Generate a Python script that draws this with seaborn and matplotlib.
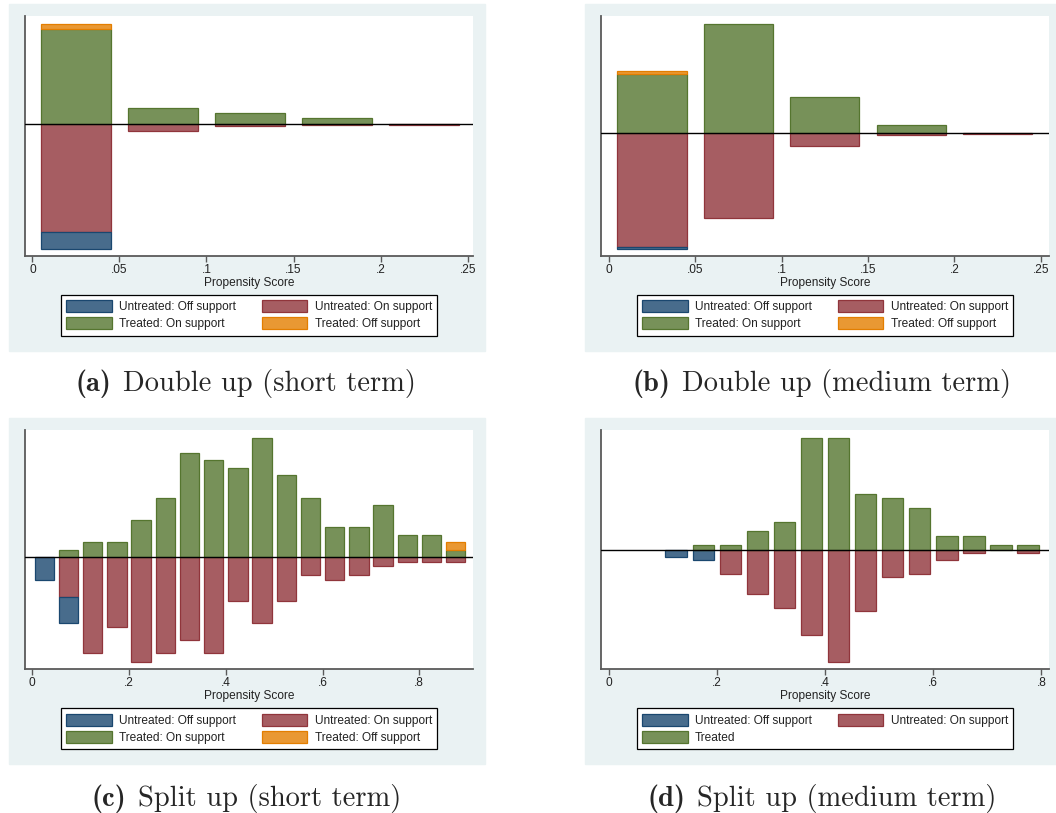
import matplotlib
matplotlib.use("Agg")
import matplotlib.pyplot as plt
from matplotlib.patches import Patch, Rectangle
from matplotlib.colors import to_hex
import pandas as pd
import seaborn as sns

# ---------------------------------------------------------------
# data: bin centres (propensity score) and bar heights per group
# (y axis is unlabelled in the source, heights are relative)
# untreated bars are drawn below the zero line
# ---------------------------------------------------------------
DOUBLE_PS = [0.025, 0.075, 0.125, 0.175, 0.225]

A_UNTR_OFF = [16.4, 0, 0, 0, 0]
A_UNTR_ON = [108.3, 6.7, 1.7, 0.6, 0.7]
A_TR_ON = [94.7, 16.0, 10.7, 5.7, 0]
A_TR_OFF = [5.3, 0, 0, 0, 0]

B_UNTR_OFF = [2.4, 0, 0, 0, 0]
B_UNTR_ON = [113.3, 85.0, 13.0, 2.0, 1.0]
B_TR_ON = [59.3, 109.3, 36.7, 8.3, 0]
B_TR_OFF = [3.3, 0, 0, 0, 0]

C_PS = [0.025, 0.075, 0.125, 0.175, 0.225, 0.275, 0.325, 0.375, 0.425,
        0.475, 0.525, 0.575, 0.625, 0.675, 0.725, 0.775, 0.825, 0.875]
C_UNTR_OFF = [22.7, 26.0, 0, 0, 0, 0, 0, 0, 0, 0, 0, 0, 0, 0, 0, 0, 0, 0]
C_UNTR_ON = [0, 40.0, 96.3, 70.3, 105.3, 96.3, 83.0, 96.3, 44.3,
             66.0, 44.3, 18.3, 22.7, 18.3, 9.3, 5.3, 5.3, 5.3]
C_TR_ON = [0, 7.0, 14.7, 14.7, 37.3, 59.7, 104.7, 97.0, 89.7,
           119.3, 82.0, 59.7, 29.7, 29.7, 52.0, 22.0, 22.0, 7.0]
C_TR_OFF = [0, 0, 0, 0, 0, 0, 0, 0, 0, 0, 0, 0, 0, 0, 0, 0, 0, 8.0]

D_PS = [0.125, 0.175, 0.225, 0.275, 0.325, 0.375, 0.425,
        0.475, 0.525, 0.575, 0.625, 0.675, 0.725, 0.775]
D_UNTR_OFF = [7.0, 10.3, 0, 0, 0, 0, 0, 0, 0, 0, 0, 0, 0, 0]
D_UNTR_ON = [0, 0, 24.0, 44.0, 58.0, 85.0, 112.0, 61.0, 27.3, 24.0, 10.3, 3.3, 0, 3.3]
D_TREATED = [0, 5.3, 5.3, 19.0, 28.3, 112.7, 112.7, 56.3, 52.0, 42.3, 14.3, 14.3, 5.3, 5.3]

U_OFF = "Untreated: Off support"
U_ON = "Untreated: On support"
T_ON = "Treated: On support"
T_OFF = "Treated: Off support"
TREATED = "Treated"

CAPTIONS = [("(a)", "Double up (short term)"),
            ("(b)", "Double up (medium term)"),
            ("(c)", "Split up (short term)"),
            ("(d)", "Split up (medium term)")]

# stata s2color at 80% intensity for fill, full colour for outline
FILL = {U_OFF: "#486c8c", U_ON: "#a65d62", T_ON: "#779159", T_OFF: "#e99833", TREATED: "#779159"}
EDGE = {"#486c8c": "#1a476f", "#a65d62": "#90353b", "#779159": "#55752f", "#e99833": "#e37e00"}

W, H = 1056, 813
BG = "#eaf2f3"
TXT = "#222222"
AXC = "#5a5a5a"

sns.set_theme(style="white")
plt.rcParams["font.family"] = ["Liberation Sans", "DejaVu Sans"]

fig = plt.figure(figsize=(W / 100, H / 100), dpi=100)
fig.patch.set_facecolor("white")


def px_axes(x0, y0, x1, y1):
    ax = fig.add_axes([x0 / W, 1 - y1 / H, (x1 - x0) / W, (y1 - y0) / H])
    ax.set_zorder(2)
    return ax


def background(x0, y0, x1, y1):
    fig.patches.append(Rectangle((x0 / W, 1 - y1 / H), (x1 - x0) / W, (y1 - y0) / H,
                                 transform=fig.transFigure, color=BG, zorder=-1))


def mirror_hist(ax, ps, untr_off, untr_on, tr_on, tr_off, tr_label):
    n = len(ps)
    lo, hi = min(ps) - 0.025, max(ps) + 0.025

    down = pd.DataFrame({"ps": ps + ps,
                         "w": [-v for v in untr_off] + [-v for v in untr_on],
                         "grp": [U_OFF] * n + [U_ON] * n})
    up_groups = [tr_label] if tr_off is None else [T_OFF, tr_label]
    up_w = tr_on if tr_off is None else tr_off + tr_on
    up = pd.DataFrame({"ps": ps * len(up_groups), "w": up_w,
                       "grp": sum([[g] * n for g in up_groups], [])})

    for df, order in [(down, [U_OFF, U_ON]), (up, up_groups)]:
        sns.histplot(data=df, x="ps", weights="w", hue="grp", hue_order=order,
                     palette=FILL, multiple="stack", bins=n, binrange=(lo, hi),
                     shrink=0.8, alpha=1, linewidth=0.9, legend=False, ax=ax)

    for bar in ax.patches:
        if bar.get_height() == 0:
            bar.set_visible(False)
            continue
        bar.set_edgecolor(EDGE[to_hex(bar.get_facecolor())])

    ax.axhline(0, color="black", lw=1.0, zorder=5)


def style_axes(ax, xlim, ylim, ticks, labels):
    ax.set_facecolor("white")
    ax.set_xlim(*xlim)
    ax.set_ylim(*ylim)
    ax.set_yticks([])
    ax.set_ylabel("")
    ax.set_xticks(ticks, labels)
    ax.set_xlabel("Propensity Score", fontsize=8.6, color=TXT, labelpad=1)
    ax.tick_params(axis="x", bottom=True, length=4, width=1, color=AXC,
                   labelsize=8.6, labelcolor=TXT, pad=1.5)
    for side in ["top", "right"]:
        ax.spines[side].set_visible(False)
    for side in ["left", "bottom"]:
        ax.spines[side].set_color(AXC)
        ax.spines[side].set_linewidth(1.3)


def legend(ax, cx, top, labels):
    handles = [Patch(facecolor=FILL[l], edgecolor=EDGE[FILL[l]], linewidth=0.9, label=l)
               for l in labels]
    leg = ax.legend(handles=handles, loc="upper center", bbox_to_anchor=(cx / W, 1 - top / H),
                    bbox_transform=fig.transFigure, ncol=2, fontsize=8.6,
                    handlelength=3.8, handleheight=1.15, handletextpad=0.6,
                    columnspacing=2.2, labelspacing=0.35, borderpad=0.45,
                    borderaxespad=0, frameon=True, fancybox=False, framealpha=1,
                    edgecolor="black")
    leg.get_frame().set_linewidth(0.9)
    for t in leg.get_texts():
        t.set_color(TXT)


def caption(cx, base, tag, rest, size=20.5):
    renderer = fig.canvas.get_renderer()
    t1 = fig.text(0, 1 - base / H, tag, fontsize=size, family="cmb10", va="baseline")
    t2 = fig.text(0, 1 - base / H, rest, fontsize=size, family="cmr10", va="baseline")
    w1 = t1.get_window_extent(renderer).width
    w2 = t2.get_window_extent(renderer).width
    gap = 0.42 * size * 100 / 72
    x0 = cx - (w1 + gap + w2) / 2
    t1.set_x(x0 / W)
    t2.set_x((x0 + w1 + gap) / W)


DOUBLE_TICKS = [0, 0.05, 0.1, 0.15, 0.2, 0.25]
DOUBLE_LABELS = ["0", ".05", ".1", ".15", ".2", ".25"]
SPLIT_TICKS = [0, 0.2, 0.4, 0.6, 0.8]
SPLIT_LABELS = ["0", ".2", ".4", ".6", ".8"]
FOUR = [U_OFF, T_ON, U_ON, T_OFF]

# panel backgrounds
background(9, 4, 485, 351)
background(585, 4, 1056, 351)
background(9, 418, 485, 764)
background(585, 418, 1056, 764)

# (a)
ax = px_axes(25, 16, 473, 256)
mirror_hist(ax, DOUBLE_PS, A_UNTR_OFF, A_UNTR_ON, A_TR_ON, A_TR_OFF, T_ON)
style_axes(ax, (-0.0042, 0.2530), (-132, 108), DOUBLE_TICKS, DOUBLE_LABELS)
legend(ax, 249, 294.7, FOUR)

# (b)
ax = px_axes(601, 16, 1049, 256)
mirror_hist(ax, DOUBLE_PS, B_UNTR_OFF, B_UNTR_ON, B_TR_ON, B_TR_OFF, T_ON)
style_axes(ax, (-0.0045, 0.2548), (-122.7, 117.3), DOUBLE_TICKS, DOUBLE_LABELS)
legend(ax, 825, 294.7, FOUR)

# (c)
ax = px_axes(25, 430, 473, 669)
mirror_hist(ax, C_PS, C_UNTR_OFF, C_UNTR_ON, C_TR_ON, C_TR_OFF, T_ON)
style_axes(ax, (-0.0151, 0.911), (-112, 127.3), SPLIT_TICKS, SPLIT_LABELS)
legend(ax, 249, 708.3, FOUR)

# (d)
ax = px_axes(601, 430, 1049, 669)
mirror_hist(ax, D_PS, D_UNTR_OFF, D_UNTR_ON, D_TREATED, None, TREATED)
style_axes(ax, (-0.01425, 0.8142), (-119, 120.3), SPLIT_TICKS, SPLIT_LABELS)
legend(ax, 825, 708.3, [U_OFF, TREATED, U_ON])

# sub-captions
for (cx, base), (tag, rest) in zip([(246, 391), (822, 391), (246, 806), (822, 806)], CAPTIONS):
    caption(cx, base, tag, rest)

fig.savefig("out.png", dpi=100, facecolor="white")
